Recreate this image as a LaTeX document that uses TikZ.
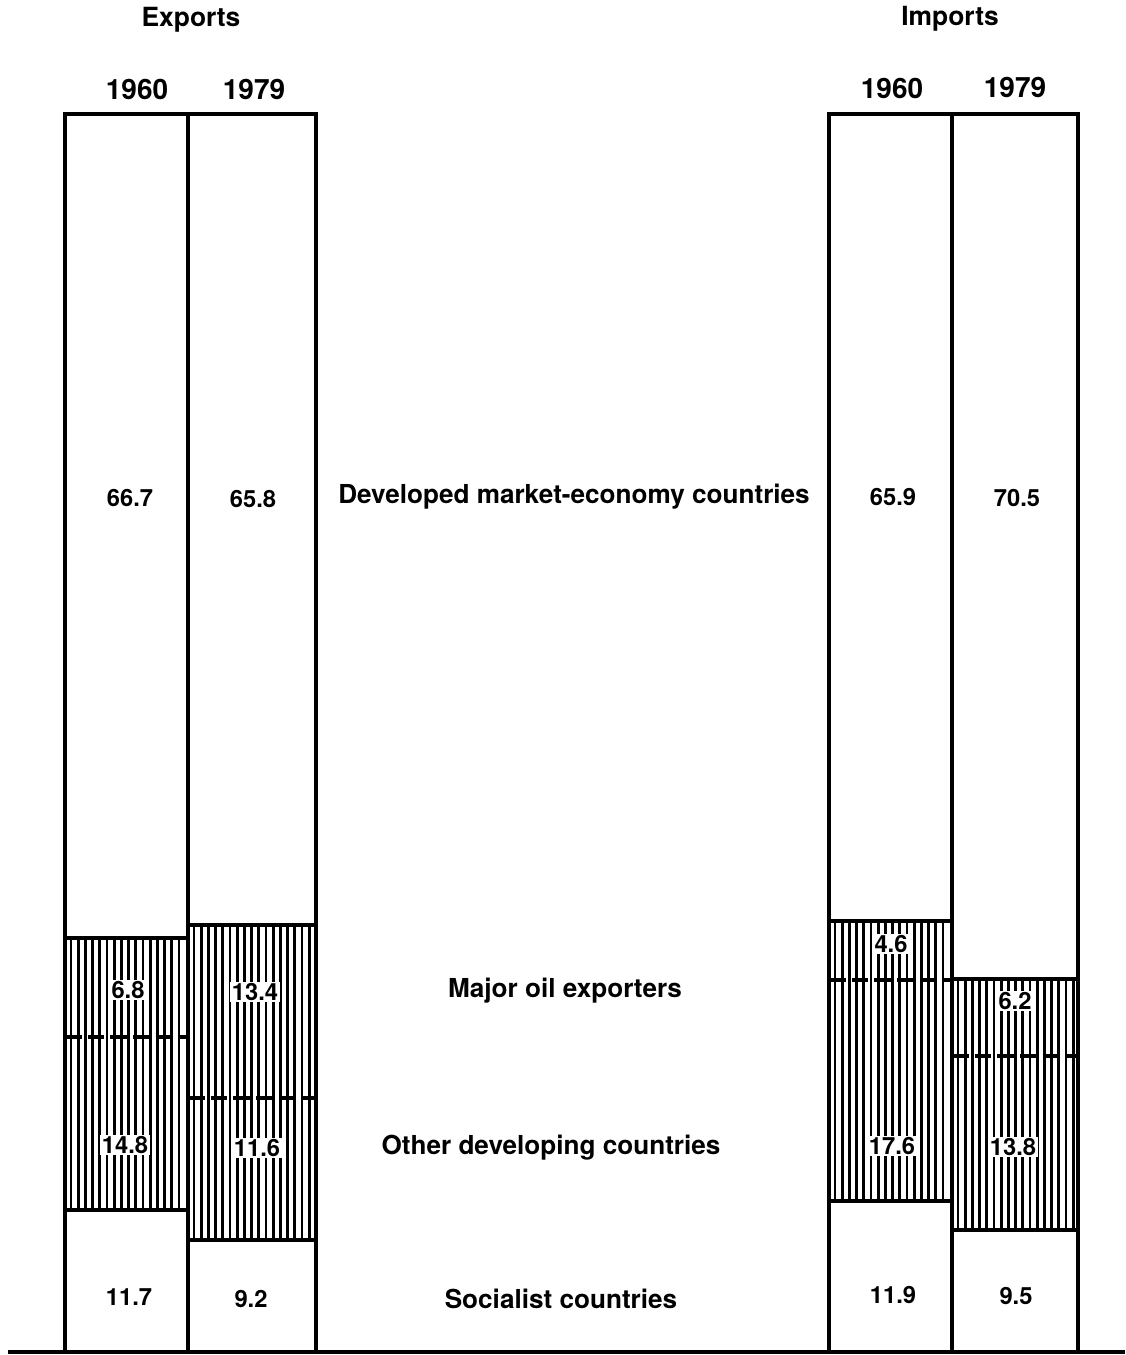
\documentclass[tikz,border=0pt]{standalone}
\usepackage{fontspec}
\setmainfont{TeX Gyre Heros}
\begin{document}
\begin{tikzpicture}[x=0.75pt,y=-0.75pt]
\tikzset{
  barline/.style={line width=2.3pt},
  hatchline/.style={line width=2.1pt},
  sepline/.style={line width=3pt, dash pattern=on 12.5pt off 4.5pt},
  base/.style={line width=3pt},
  val/.style={font=\bfseries\fontsize{17.8}{18}\selectfont, fill=white, inner sep=1.2pt},
  yr/.style={font=\bfseries\fontsize{21}{21}\selectfont},
  ttl/.style={font=\bfseries\fontsize{19.8}{20}\selectfont},
  cat/.style={font=\bfseries\fontsize{19.6}{20}\selectfont}
}
\newcommand\hatchbox[5]{\foreach \xx in {#1,#2,...,#3}{\draw[hatchline] (\xx,#4) -- (\xx,#5);}}
\useasboundingbox (0,0) rectangle (1125,1355);
\fill[white] (0,0) rectangle (1125,1355);
% hatching
\hatchbox{71}{78.2}{184}{938}{1210}
\hatchbox{194}{201.2}{312}{925}{1240}
\hatchbox{835}{842.2}{948}{921}{1201}
\hatchbox{958}{965.2}{1074}{979}{1230}
% separators
\draw[sepline] (65,1037) -- (188,1037);
\draw[sepline] (188,1098) -- (316,1098);
\draw[sepline] (829,980) -- (952,980);
\draw[sepline] (952,1056) -- (1078,1056);
% bar outlines
\draw[barline] (65,1352) -- (65,114) -- (188,114) -- (188,1352);
\draw[barline] (188,114) -- (316,114) -- (316,1352);
\draw[barline] (65,938) -- (188,938) (65,1210) -- (188,1210);
\draw[barline] (188,925) -- (316,925) (188,1240) -- (316,1240);
\draw[barline] (829,1352) -- (829,114) -- (952,114) -- (952,1352);
\draw[barline] (952,114) -- (1078,114) -- (1078,1352);
\draw[barline] (829,921) -- (952,921) (829,1201) -- (952,1201);
\draw[barline] (952,979) -- (1078,979) (952,1230) -- (1078,1230);
\draw[base] (8,1352) -- (1125,1352);
% titles
\node[ttl] (exp) at (191,20) {Exports};
\node[ttl] (imp) at (950,19) {Imports};
\node[yr] (e60) at (137,89) {1960};
\node[yr] (e79) at (254,89) {1979};
\node[yr] (i60) at (892,88) {1960};
\node[yr] (i79) at (1015,87) {1979};
% values
\node[val] (v1) at (130,498) {66.7};
\node[val] (v2) at (253,499) {65.8};
\node[val] (v3) at (893,497) {65.9};
\node[val] (v4) at (1017,498) {70.5};
\node[val] (v5) at (128,990) {6.8};
\node[val] (v6) at (255,992) {13.4};
\node[val] (v7) at (125,1145) {14.8};
\node[val] (v8) at (257,1148) {11.6};
\node[val] (v9) at (129,1297) {11.7};
\node[val] (v10) at (251,1299) {9.2};
\node[val] (v11) at (891,944) {4.6};
\node[val] (v12) at (1015,1001) {6.2};
\node[val] (v13) at (892,1146) {17.6};
\node[val] (v14) at (1013,1147) {13.8};
\node[val] (v15) at (893,1295) {11.9};
\node[val] (v16) at (1016,1296) {9.5};
% categories
\node[cat] (c1) at (574,497) {Developed market-economy countries};
\node[cat] (c2) at (565,991) {Major oil exporters};
\node[cat] (c3) at (551,1148) {Other developing countries};
\node[cat] (c4) at (561,1299) {Socialist countries};
\end{tikzpicture}
\end{document}
